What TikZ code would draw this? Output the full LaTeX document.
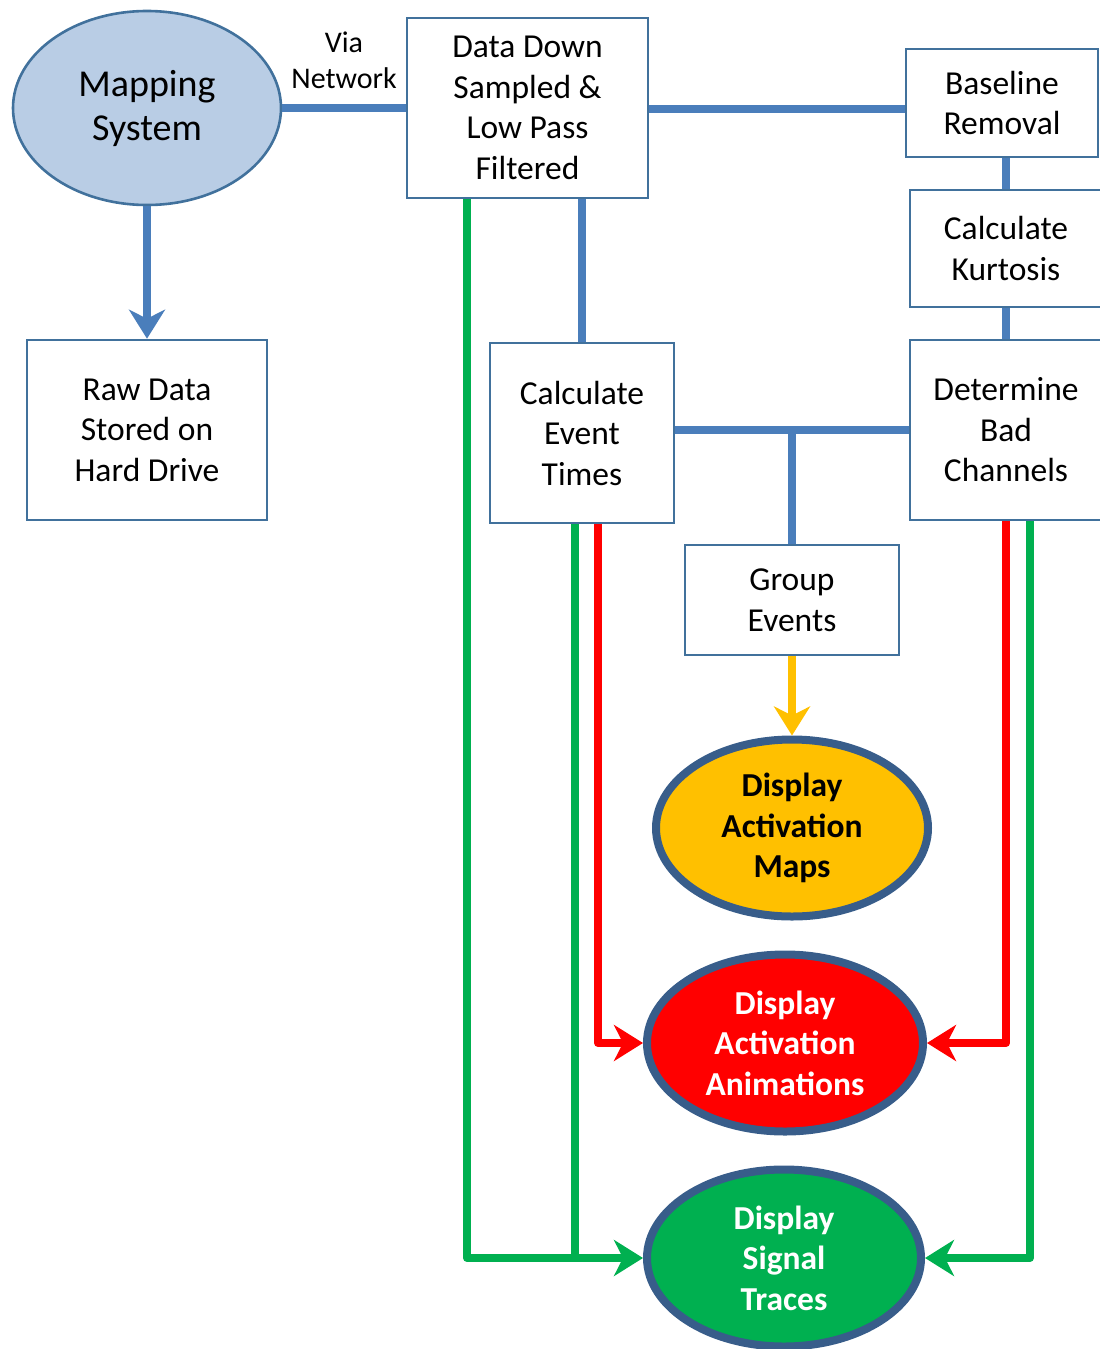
\documentclass[tikz,border=0pt]{standalone}
\usepackage{fontspec}
\setmainfont{Carlito}
\usetikzlibrary{shapes.geometric,arrows.meta}
\definecolor{lineblue}{HTML}{4A7EBB}
\definecolor{boxblue}{HTML}{41719C}
\definecolor{msfill}{HTML}{B9CDE5}
\definecolor{ellborder}{HTML}{385D8A}
\definecolor{myyellow}{HTML}{FFC000}
\definecolor{myred}{HTML}{FF0000}
\definecolor{mygreen}{HTML}{00B050}
\tikzset{
  boxnode/.style={draw=boxblue, line width=2.6pt, fill=white, inner sep=0pt, align=center,
    font=\fontsize{33.5}{40.5}\selectfont},
  dispell/.style={ellipse, draw=ellborder, line width=8pt, inner sep=0pt, align=center,
    font=\fontsize{33.5}{40.5}\selectfont\bfseries},
  conn/.style={line width=8pt, line join=round},
  bigtip/.style={-{Stealth[length=29pt,width=36pt,inset=9pt]}}
}
\begin{document}
\begin{tikzpicture}[x=1pt,y=-1pt]
\useasboundingbox (0,0) rectangle (1100,1349);
\clip (0,0) rectangle (1100,1349);
% nodes
\node[ellipse, draw=boxblue, line width=2.6pt, fill=msfill, minimum width=268pt, minimum height=194pt,
  inner sep=0pt, align=center, font=\fontsize{38}{44}\selectfont] (ms) at (147,108) {Mapping\\System};
\node[boxnode, minimum width=241pt, minimum height=180pt] (dd) at (527.5,108) {Data Down\\Sampled \&\\Low Pass\\Filtered};
\node[boxnode, minimum width=192pt, minimum height=108pt] (br) at (1002,103) {Baseline\\Removal};
\node[boxnode, minimum width=192pt, minimum height=117pt] (kt) at (1006,248.5) {Calculate\\Kurtosis};
\node[boxnode, minimum width=192pt, minimum height=180pt] (db) at (1006,430) {Determine\\Bad\\Channels};
\node[boxnode, minimum width=240pt, minimum height=180pt] (rd) at (147,430) {Raw Data\\Stored on\\Hard Drive};
\node[boxnode, minimum width=184pt, minimum height=180pt] (ce) at (582,433) {Calculate\\Event\\Times};
\node[boxnode, minimum width=214pt, minimum height=110pt] (ge) at (792,600) {Group\\Events};
\node[dispell, fill=myyellow, text=black, minimum width=272pt, minimum height=177pt] (am) at (792,828) {Display\\Activation\\Maps};
\node[dispell, fill=myred, text=white, minimum width=276pt, minimum height=177pt] (aa) at (785,1043) {Display\\Activation\\Animations};
\node[dispell, fill=mygreen, text=white, minimum width=274pt, minimum height=177pt] (st) at (784,1258) {Display\\Signal\\Traces};
\node[align=center, font=\fontsize{30}{36}\selectfont] (vn) at (344,60) {Via\\Network};
% blue connectors
\draw[conn, draw=lineblue] (ms.east) -- (ms.east -| dd.west);
\draw[conn, draw=lineblue, bigtip] (ms.south) -- (rd.north);
\draw[conn, draw=lineblue] ([yshift=-1pt]dd.east) -- ([yshift=-1pt]dd.east -| br.west);
\draw[conn, draw=lineblue] (br.south -| kt.north) -- (kt.north);
\draw[conn, draw=lineblue] (kt.south) -- (db.north);
\draw[conn, draw=lineblue] (dd.south -| ce.north) -- (ce.north);
\draw[conn, draw=lineblue] (db.west) -- (db.west -| ce.east);
\draw[conn, draw=lineblue] (db.west -| ge.north) -- (ge.north);
% yellow
\draw[conn, draw=myyellow, bigtip] (ge.south) -- (am.north);
% red
\draw[conn, draw=myred, bigtip] ([xshift=16pt]ce.south) |- (aa.west);
\draw[conn, draw=myred, bigtip] (db.south) |- (aa.east);
% green
\draw[conn, draw=mygreen, bigtip] ([xshift=-60.5pt]dd.south) |- (st.west);
\draw[conn, draw=mygreen] ([xshift=-7pt]ce.south) -- ([xshift=-7pt]ce.south |- st.west);
\draw[conn, draw=mygreen, bigtip] ([xshift=24pt]db.south) |- (st.east);
\end{tikzpicture}
\end{document}
